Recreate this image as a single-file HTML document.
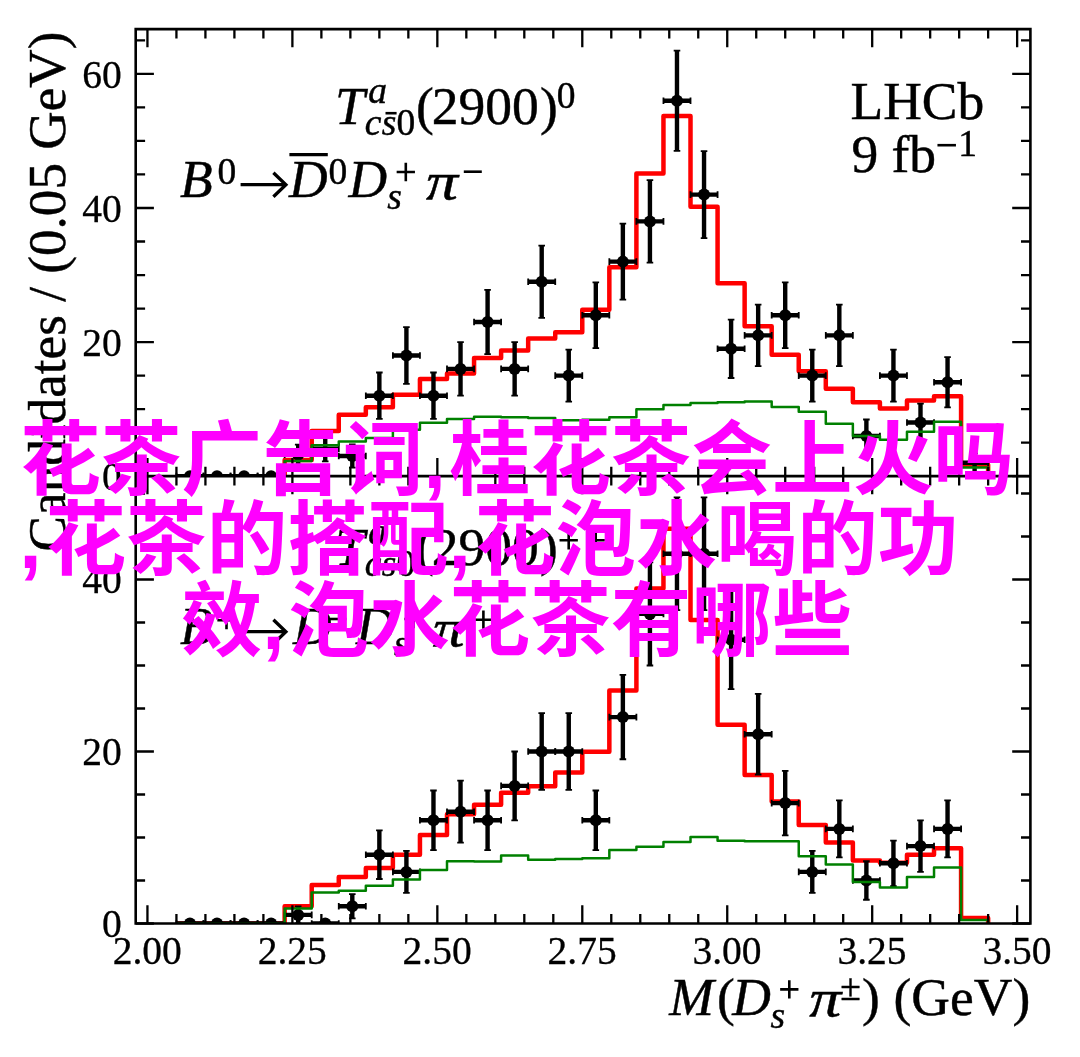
<!DOCTYPE html>
<html><head><meta charset="utf-8"><title>plot</title>
<style>html,body{margin:0;padding:0;background:#fff}body{width:1080px;height:1057px;overflow:hidden;position:relative;font-family:"Liberation Serif",serif}</style></head>
<body>
<svg xmlns="http://www.w3.org/2000/svg" width="1080" height="1057" viewBox="0 0 1080 1057" style="position:absolute;left:0;top:0;will-change:transform;font-family:'Liberation Serif',serif" shape-rendering="geometricPrecision">
<defs><clipPath id="ct"><rect x="135.7" y="29.13" width="894.7" height="447.02"/></clipPath><clipPath id="cb"><rect x="135.7" y="476.15" width="894.7" height="447.35"/></clipPath></defs>
<rect width="1080" height="1057" fill="#fff"/>
<g clip-path="url(#ct)">
<path d="M176.43 476.15 L176.43 476.15 L203.49 476.15 L203.49 476.15 L230.54 476.15 L230.54 476.15 L257.6 476.15 L257.6 476.15 L284.66 476.15 L284.66 460.02 L311.72 460.02 L311.72 430.99 L338.77 430.99 L338.77 414.8 L365.83 414.8 L365.83 407.27 L392.89 407.27 L392.89 394.84 L419.94 394.84 L419.94 379.05 L447 379.05 L447 373.54 L474.06 373.54 L474.06 357.88 L501.11 357.88 L501.11 350.49 L528.17 350.49 L528.17 338.39 L555.23 338.39 L555.23 332.34 L582.28 332.34 L582.28 309.83 L609.34 309.83 L609.34 267.16 L636.4 267.16 L636.4 173.55 L663.46 173.55 L663.46 115.96 L690.51 115.96 L690.51 206.68 L717.57 206.68 L717.57 283.29 L744.63 283.29 L744.63 326.29 L771.68 326.29 L771.68 354.85 L798.74 354.85 L798.74 371.32 L825.8 371.32 L825.8 388.79 L852.86 388.79 L852.86 402.23 L879.91 402.23 L879.91 408.55 L906.97 408.55 L906.97 400.55 L934.03 400.55 L934.03 396.18 L961.08 396.18 L961.08 464.73 L988.14 464.73 L988.14 476.15" stroke="#ff0000" stroke-width="4.5" fill="none" stroke-linejoin="round"/>
<path d="M176.43 476.15H203.49" stroke="#000" stroke-width="4.4" fill="none"/>
<path d="M176.43 472.85V479.45M203.49 472.85V479.45" stroke="#000" stroke-width="1.8" fill="none"/>
<circle cx="189.96" cy="476.15" r="6"/>
<path d="M203.49 476.15H230.54" stroke="#000" stroke-width="4.4" fill="none"/>
<path d="M203.49 472.85V479.45M230.54 472.85V479.45" stroke="#000" stroke-width="1.8" fill="none"/>
<circle cx="217.02" cy="476.15" r="6"/>
<path d="M230.54 476.15H257.6" stroke="#000" stroke-width="4.4" fill="none"/>
<path d="M230.54 472.85V479.45M257.6 472.85V479.45" stroke="#000" stroke-width="1.8" fill="none"/>
<circle cx="244.07" cy="476.15" r="6"/>
<path d="M257.6 476.15H284.66" stroke="#000" stroke-width="4.4" fill="none"/>
<path d="M257.6 472.85V479.45M284.66 472.85V479.45" stroke="#000" stroke-width="1.8" fill="none"/>
<circle cx="271.13" cy="476.15" r="6"/>
<path d="M284.66 454.7H311.72M298.19 444.64V464.75" stroke="#000" stroke-width="4.4" fill="none"/>
<path d="M284.66 451.4V458M311.72 451.4V458M294.89 444.64H301.49M294.89 464.75H301.49" stroke="#000" stroke-width="1.8" fill="none"/>
<circle cx="298.19" cy="454.7" r="6"/>
<path d="M311.72 448.66H338.77M325.24 435.93V461.4" stroke="#000" stroke-width="4.4" fill="none"/>
<path d="M311.72 445.36V451.96M338.77 445.36V451.96M321.94 435.93H328.54M321.94 461.4H328.54" stroke="#000" stroke-width="1.8" fill="none"/>
<path d="M338.77 456.04H365.83M352.3 444.43V467.65" stroke="#000" stroke-width="4.4" fill="none"/>
<path d="M338.77 452.74V459.34M365.83 452.74V459.34M349 444.43H355.6M349 467.65H355.6" stroke="#000" stroke-width="1.8" fill="none"/>
<circle cx="352.3" cy="456.04" r="6"/>
<path d="M365.83 395.7H392.89M379.36 372.48V418.93" stroke="#000" stroke-width="4.4" fill="none"/>
<path d="M365.83 392.4V399M392.89 392.4V399M376.06 372.48H382.66M376.06 418.93H382.66" stroke="#000" stroke-width="1.8" fill="none"/>
<circle cx="379.36" cy="395.7" r="6"/>
<path d="M392.89 355.48H419.94M406.41 327.04V383.92" stroke="#000" stroke-width="4.4" fill="none"/>
<path d="M392.89 352.18V358.78M419.94 352.18V358.78M403.11 327.04H409.71M403.11 383.92H409.71" stroke="#000" stroke-width="1.8" fill="none"/>
<circle cx="406.41" cy="355.48" r="6"/>
<path d="M419.94 395.7H447M433.47 372.48V418.93" stroke="#000" stroke-width="4.4" fill="none"/>
<path d="M419.94 392.4V399M447 392.4V399M430.17 372.48H436.77M430.17 418.93H436.77" stroke="#000" stroke-width="1.8" fill="none"/>
<circle cx="433.47" cy="395.7" r="6"/>
<path d="M447 368.89H474.06M460.53 342.07V395.7" stroke="#000" stroke-width="4.4" fill="none"/>
<path d="M447 365.59V372.19M474.06 365.59V372.19M457.23 342.07H463.83M457.23 395.7H463.83" stroke="#000" stroke-width="1.8" fill="none"/>
<circle cx="460.53" cy="368.89" r="6"/>
<path d="M474.06 321.96H501.11M487.59 289.81V354.11" stroke="#000" stroke-width="4.4" fill="none"/>
<path d="M474.06 318.66V325.26M501.11 318.66V325.26M484.29 289.81H490.89M484.29 354.11H490.89" stroke="#000" stroke-width="1.8" fill="none"/>
<circle cx="487.59" cy="321.96" r="6"/>
<path d="M501.11 368.89H528.17M514.64 342.07V395.7" stroke="#000" stroke-width="4.4" fill="none"/>
<path d="M501.11 365.59V372.19M528.17 365.59V372.19M511.34 342.07H517.94M511.34 395.7H517.94" stroke="#000" stroke-width="1.8" fill="none"/>
<circle cx="514.64" cy="368.89" r="6"/>
<path d="M528.17 281.73H555.23M541.7 245.63V317.84" stroke="#000" stroke-width="4.4" fill="none"/>
<path d="M528.17 278.43V285.03M555.23 278.43V285.03M538.4 245.63H545M538.4 317.84H545" stroke="#000" stroke-width="1.8" fill="none"/>
<circle cx="541.7" cy="281.73" r="6"/>
<path d="M555.23 375.59H582.28M568.76 349.63V401.55" stroke="#000" stroke-width="4.4" fill="none"/>
<path d="M555.23 372.29V378.89M582.28 372.29V378.89M565.46 349.63H572.06M565.46 401.55H572.06" stroke="#000" stroke-width="1.8" fill="none"/>
<circle cx="568.76" cy="375.59" r="6"/>
<path d="M582.28 315.25H609.34M595.81 282.41V348.1" stroke="#000" stroke-width="4.4" fill="none"/>
<path d="M582.28 311.95V318.55M609.34 311.95V318.55M592.51 282.41H599.11M592.51 348.1H599.11" stroke="#000" stroke-width="1.8" fill="none"/>
<circle cx="595.81" cy="315.25" r="6"/>
<path d="M609.34 261.62H636.4M622.87 223.7V299.55" stroke="#000" stroke-width="4.4" fill="none"/>
<path d="M609.34 258.32V264.92M636.4 258.32V264.92M619.57 223.7H626.17M619.57 299.55H626.17" stroke="#000" stroke-width="1.8" fill="none"/>
<circle cx="622.87" cy="261.62" r="6"/>
<path d="M636.4 221.4H663.46M649.93 180.07V262.72" stroke="#000" stroke-width="4.4" fill="none"/>
<path d="M636.4 218.1V224.7M663.46 218.1V224.7M646.63 180.07H653.23M646.63 262.72H653.23" stroke="#000" stroke-width="1.8" fill="none"/>
<circle cx="649.93" cy="221.4" r="6"/>
<path d="M663.46 100.73H690.51M676.98 50.56V150.89" stroke="#000" stroke-width="4.4" fill="none"/>
<path d="M663.46 97.43V104.03M690.51 97.43V104.03M673.68 50.56H680.28M673.68 150.89H680.28" stroke="#000" stroke-width="1.8" fill="none"/>
<circle cx="676.98" cy="100.73" r="6"/>
<path d="M690.51 194.58H717.57M704.04 151.14V238.03" stroke="#000" stroke-width="4.4" fill="none"/>
<path d="M690.51 191.28V197.88M717.57 191.28V197.88M700.74 151.14H707.34M700.74 238.03H707.34" stroke="#000" stroke-width="1.8" fill="none"/>
<circle cx="704.04" cy="194.58" r="6"/>
<path d="M717.57 348.77H744.63M731.1 319.55V378" stroke="#000" stroke-width="4.4" fill="none"/>
<path d="M717.57 345.47V352.07M744.63 345.47V352.07M727.8 319.55H734.4M727.8 378H734.4" stroke="#000" stroke-width="1.8" fill="none"/>
<circle cx="731.1" cy="348.77" r="6"/>
<path d="M744.63 335.37H771.68M758.16 304.64V366.09" stroke="#000" stroke-width="4.4" fill="none"/>
<path d="M744.63 332.07V338.67M771.68 332.07V338.67M754.86 304.64H761.46M754.86 366.09H761.46" stroke="#000" stroke-width="1.8" fill="none"/>
<circle cx="758.16" cy="335.37" r="6"/>
<path d="M771.68 315.25H798.74M785.21 282.41V348.1" stroke="#000" stroke-width="4.4" fill="none"/>
<path d="M771.68 311.95V318.55M798.74 311.95V318.55M781.91 282.41H788.51M781.91 348.1H788.51" stroke="#000" stroke-width="1.8" fill="none"/>
<circle cx="785.21" cy="315.25" r="6"/>
<path d="M798.74 375.59H825.8M812.27 349.63V401.55" stroke="#000" stroke-width="4.4" fill="none"/>
<path d="M798.74 372.29V378.89M825.8 372.29V378.89M808.97 349.63H815.57M808.97 401.55H815.57" stroke="#000" stroke-width="1.8" fill="none"/>
<circle cx="812.27" cy="375.59" r="6"/>
<path d="M825.8 335.37H852.86M839.33 304.64V366.09" stroke="#000" stroke-width="4.4" fill="none"/>
<path d="M825.8 332.07V338.67M852.86 332.07V338.67M836.03 304.64H842.63M836.03 366.09H842.63" stroke="#000" stroke-width="1.8" fill="none"/>
<circle cx="839.33" cy="335.37" r="6"/>
<path d="M852.86 435.93H879.91M866.38 419.5V452.35" stroke="#000" stroke-width="4.4" fill="none"/>
<path d="M852.86 432.63V439.23M879.91 432.63V439.23M863.08 419.5H869.68M863.08 452.35H869.68" stroke="#000" stroke-width="1.8" fill="none"/>
<circle cx="866.38" cy="435.93" r="6"/>
<path d="M879.91 375.59H906.97M893.44 349.63V401.55" stroke="#000" stroke-width="4.4" fill="none"/>
<path d="M879.91 372.29V378.89M906.97 372.29V378.89M890.14 349.63H896.74M890.14 401.55H896.74" stroke="#000" stroke-width="1.8" fill="none"/>
<circle cx="893.44" cy="375.59" r="6"/>
<path d="M906.97 422.52H934.03M920.5 403.56V441.48" stroke="#000" stroke-width="4.4" fill="none"/>
<path d="M906.97 419.22V425.82M934.03 419.22V425.82M917.2 403.56H923.8M917.2 441.48H923.8" stroke="#000" stroke-width="1.8" fill="none"/>
<circle cx="920.5" cy="422.52" r="6"/>
<path d="M934.03 382.29H961.08M947.55 357.21V407.38" stroke="#000" stroke-width="4.4" fill="none"/>
<path d="M934.03 378.99V385.59M961.08 378.99V385.59M944.25 357.21H950.85M944.25 407.38H950.85" stroke="#000" stroke-width="1.8" fill="none"/>
<circle cx="947.55" cy="382.29" r="6"/>
<path d="M961.08 462.74H988.14M974.61 453.29V472.19" stroke="#000" stroke-width="4.4" fill="none"/>
<path d="M961.08 459.44V466.04M988.14 459.44V466.04M971.31 453.29H977.91M971.31 472.19H977.91" stroke="#000" stroke-width="1.8" fill="none"/>
<path d="M176.43 476.15 L176.43 476.15 L203.49 476.15 L203.49 476.15 L230.54 476.15 L230.54 476.15 L257.6 476.15 L257.6 476.15 L284.66 476.15 L284.66 461.03 L311.72 461.03 L311.72 445.24 L338.77 445.24 L338.77 441.47 L365.83 441.47 L365.83 437.98 L392.89 437.98 L392.89 429.78 L419.94 429.78 L419.94 422.73 L447 422.73 L447 419.03 L474.06 419.03 L474.06 416.75 L501.11 416.75 L501.11 417.28 L528.17 417.28 L528.17 418.02 L555.23 418.02 L555.23 420.37 L582.28 420.37 L582.28 419.77 L609.34 419.77 L609.34 417.28 L636.4 417.28 L636.4 409.29 L663.46 409.29 L663.46 404.92 L690.51 404.92 L690.51 402.9 L717.57 402.9 L717.57 402.23 L744.63 402.23 L744.63 401.56 L771.68 401.56 L771.68 406.93 L798.74 406.93 L798.74 411.64 L825.8 411.64 L825.8 423.73 L852.86 423.73 L852.86 436.03 L879.91 436.03 L879.91 439.86 L906.97 439.86 L906.97 431.8 L934.03 431.8 L934.03 421.72 L961.08 421.72 L961.08 467.41 L988.14 467.41 L988.14 476.15" stroke="#008000" stroke-width="2.5" fill="none" stroke-linejoin="round"/>
</g>
<g clip-path="url(#cb)">
<path d="M176.43 923.5 L176.43 923.5 L203.49 923.5 L203.49 923.5 L230.54 923.5 L230.54 923.5 L257.6 923.5 L257.6 923.5 L284.66 923.5 L284.66 906.13 L311.72 906.13 L311.72 884.89 L338.77 884.89 L338.77 876.89 L365.83 876.89 L365.83 867.94 L392.89 867.94 L392.89 854.87 L419.94 854.87 L419.94 834.92 L447 834.92 L447 814.28 L474.06 814.28 L474.06 804.82 L501.11 804.82 L501.11 792.78 L528.17 792.78 L528.17 786.24 L555.23 786.24 L555.23 772.48 L582.28 772.48 L582.28 751.76 L609.34 751.76 L609.34 690.44 L636.4 690.44 L636.4 588.53 L663.46 588.53 L663.46 528.76 L690.51 528.76 L690.51 619.92 L717.57 619.92 L717.57 724.84 L744.63 724.84 L744.63 774.98 L771.68 774.98 L771.68 801.38 L798.74 801.38 L798.74 824.94 L825.8 824.94 L825.8 842.4 L852.86 842.4 L852.86 860.38 L879.91 860.38 L879.91 862.87 L906.97 862.87 L906.97 854.87 L934.03 854.87 L934.03 848.16 L961.08 848.16 L961.08 918.08 L988.14 918.08 L988.14 923.5" stroke="#ff0000" stroke-width="4.5" fill="none" stroke-linejoin="round"/>
<path d="M176.43 923.5H203.49" stroke="#000" stroke-width="4.4" fill="none"/>
<path d="M176.43 920.2V926.8M203.49 920.2V926.8" stroke="#000" stroke-width="1.8" fill="none"/>
<circle cx="189.96" cy="923.5" r="6"/>
<path d="M203.49 923.5H230.54" stroke="#000" stroke-width="4.4" fill="none"/>
<path d="M203.49 920.2V926.8M230.54 920.2V926.8" stroke="#000" stroke-width="1.8" fill="none"/>
<circle cx="217.02" cy="923.5" r="6"/>
<path d="M230.54 923.5H257.6" stroke="#000" stroke-width="4.4" fill="none"/>
<path d="M230.54 920.2V926.8M257.6 920.2V926.8" stroke="#000" stroke-width="1.8" fill="none"/>
<circle cx="244.07" cy="923.5" r="6"/>
<path d="M257.6 923.5H284.66" stroke="#000" stroke-width="4.4" fill="none"/>
<path d="M257.6 920.2V926.8M284.66 920.2V926.8" stroke="#000" stroke-width="1.8" fill="none"/>
<circle cx="271.13" cy="923.5" r="6"/>
<path d="M284.66 914.9H311.72M298.19 906.3V923.5" stroke="#000" stroke-width="4.4" fill="none"/>
<path d="M284.66 911.6V918.2M311.72 911.6V918.2M294.89 906.3H301.49M294.89 923.5H301.49" stroke="#000" stroke-width="1.8" fill="none"/>
<circle cx="298.19" cy="914.9" r="6"/>
<path d="M311.72 923.5H338.77" stroke="#000" stroke-width="4.4" fill="none"/>
<path d="M311.72 920.2V926.8M338.77 920.2V926.8" stroke="#000" stroke-width="1.8" fill="none"/>
<circle cx="325.24" cy="923.5" r="6"/>
<path d="M338.77 906.3H365.83M352.3 894.14V918.46" stroke="#000" stroke-width="4.4" fill="none"/>
<path d="M338.77 903V909.6M365.83 903V909.6M349 894.14H355.6M349 918.46H355.6" stroke="#000" stroke-width="1.8" fill="none"/>
<circle cx="352.3" cy="906.3" r="6"/>
<path d="M365.83 854.7H392.89M379.36 830.38V879.02" stroke="#000" stroke-width="4.4" fill="none"/>
<path d="M365.83 851.4V858M392.89 851.4V858M376.06 830.38H382.66M376.06 879.02H382.66" stroke="#000" stroke-width="1.8" fill="none"/>
<circle cx="379.36" cy="854.7" r="6"/>
<path d="M392.89 871.9H419.94M406.41 850.83V892.97" stroke="#000" stroke-width="4.4" fill="none"/>
<path d="M392.89 868.6V875.2M419.94 868.6V875.2M403.11 850.83H409.71M403.11 892.97H409.71" stroke="#000" stroke-width="1.8" fill="none"/>
<circle cx="406.41" cy="871.9" r="6"/>
<path d="M419.94 820.3H447M433.47 790.51V850.09" stroke="#000" stroke-width="4.4" fill="none"/>
<path d="M419.94 817V823.6M447 817V823.6M430.17 790.51H436.77M430.17 850.09H436.77" stroke="#000" stroke-width="1.8" fill="none"/>
<circle cx="433.47" cy="820.3" r="6"/>
<path d="M447 811.7H474.06M460.53 780.69V842.71" stroke="#000" stroke-width="4.4" fill="none"/>
<path d="M447 808.4V815M474.06 808.4V815M457.23 780.69H463.83M457.23 842.71H463.83" stroke="#000" stroke-width="1.8" fill="none"/>
<circle cx="460.53" cy="811.7" r="6"/>
<path d="M474.06 820.3H501.11M487.59 790.51V850.09" stroke="#000" stroke-width="4.4" fill="none"/>
<path d="M474.06 817V823.6M501.11 817V823.6M484.29 790.51H490.89M484.29 850.09H490.89" stroke="#000" stroke-width="1.8" fill="none"/>
<circle cx="487.59" cy="820.3" r="6"/>
<path d="M501.11 785.9H528.17M514.64 751.5V820.3" stroke="#000" stroke-width="4.4" fill="none"/>
<path d="M501.11 782.6V789.2M528.17 782.6V789.2M511.34 751.5H517.94M511.34 820.3H517.94" stroke="#000" stroke-width="1.8" fill="none"/>
<circle cx="514.64" cy="785.9" r="6"/>
<path d="M528.17 751.5H555.23M541.7 713.04V789.96" stroke="#000" stroke-width="4.4" fill="none"/>
<path d="M528.17 748.2V754.8M555.23 748.2V754.8M538.4 713.04H545M538.4 789.96H545" stroke="#000" stroke-width="1.8" fill="none"/>
<circle cx="541.7" cy="751.5" r="6"/>
<path d="M555.23 751.5H582.28M568.76 713.04V789.96" stroke="#000" stroke-width="4.4" fill="none"/>
<path d="M555.23 748.2V754.8M582.28 748.2V754.8M565.46 713.04H572.06M565.46 789.96H572.06" stroke="#000" stroke-width="1.8" fill="none"/>
<circle cx="568.76" cy="751.5" r="6"/>
<path d="M582.28 820.3H609.34M595.81 790.51V850.09" stroke="#000" stroke-width="4.4" fill="none"/>
<path d="M582.28 817V823.6M609.34 817V823.6M592.51 790.51H599.11M592.51 850.09H599.11" stroke="#000" stroke-width="1.8" fill="none"/>
<circle cx="595.81" cy="820.3" r="6"/>
<path d="M609.34 717.1H636.4M622.87 674.97V759.23" stroke="#000" stroke-width="4.4" fill="none"/>
<path d="M609.34 713.8V720.4M636.4 713.8V720.4M619.57 674.97H626.17M619.57 759.23H626.17" stroke="#000" stroke-width="1.8" fill="none"/>
<circle cx="622.87" cy="717.1" r="6"/>
<path d="M636.4 613.9H663.46M649.93 562.3V665.5" stroke="#000" stroke-width="4.4" fill="none"/>
<path d="M636.4 610.6V617.2M663.46 610.6V617.2M646.63 562.3H653.23M646.63 665.5H653.23" stroke="#000" stroke-width="1.8" fill="none"/>
<circle cx="649.93" cy="613.9" r="6"/>
<path d="M663.46 553.7H690.51M676.98 497.31V610.09" stroke="#000" stroke-width="4.4" fill="none"/>
<path d="M663.46 550.4V557M690.51 550.4V557M673.68 497.31H680.28M673.68 610.09H680.28" stroke="#000" stroke-width="1.8" fill="none"/>
<circle cx="676.98" cy="553.7" r="6"/>
<path d="M690.51 553.7H717.57M704.04 497.31V610.09" stroke="#000" stroke-width="4.4" fill="none"/>
<path d="M690.51 550.4V557M717.57 550.4V557M700.74 497.31H707.34M700.74 610.09H707.34" stroke="#000" stroke-width="1.8" fill="none"/>
<circle cx="704.04" cy="553.7" r="6"/>
<path d="M717.57 639.7H744.63M731.1 590.3V689.1" stroke="#000" stroke-width="4.4" fill="none"/>
<path d="M717.57 636.4V643M744.63 636.4V643M727.8 590.3H734.4M727.8 689.1H734.4" stroke="#000" stroke-width="1.8" fill="none"/>
<circle cx="731.1" cy="639.7" r="6"/>
<path d="M744.63 734.3H771.68M758.16 693.96V774.64" stroke="#000" stroke-width="4.4" fill="none"/>
<path d="M744.63 731V737.6M771.68 731V737.6M754.86 693.96H761.46M754.86 774.64H761.46" stroke="#000" stroke-width="1.8" fill="none"/>
<circle cx="758.16" cy="734.3" r="6"/>
<path d="M771.68 803.1H798.74M785.21 770.92V835.28" stroke="#000" stroke-width="4.4" fill="none"/>
<path d="M771.68 799.8V806.4M798.74 799.8V806.4M781.91 770.92H788.51M781.91 835.28H788.51" stroke="#000" stroke-width="1.8" fill="none"/>
<circle cx="785.21" cy="803.1" r="6"/>
<path d="M798.74 871.9H825.8M812.27 850.83V892.97" stroke="#000" stroke-width="4.4" fill="none"/>
<path d="M798.74 868.6V875.2M825.8 868.6V875.2M808.97 850.83H815.57M808.97 892.97H815.57" stroke="#000" stroke-width="1.8" fill="none"/>
<circle cx="812.27" cy="871.9" r="6"/>
<path d="M825.8 828.9H852.86M839.33 800.38V857.42" stroke="#000" stroke-width="4.4" fill="none"/>
<path d="M825.8 825.6V832.2M852.86 825.6V832.2M836.03 800.38H842.63M836.03 857.42H842.63" stroke="#000" stroke-width="1.8" fill="none"/>
<circle cx="839.33" cy="828.9" r="6"/>
<path d="M852.86 880.5H879.91M866.38 861.27V899.73" stroke="#000" stroke-width="4.4" fill="none"/>
<path d="M852.86 877.2V883.8M879.91 877.2V883.8M863.08 861.27H869.68M863.08 899.73H869.68" stroke="#000" stroke-width="1.8" fill="none"/>
<circle cx="866.38" cy="880.5" r="6"/>
<path d="M879.91 863.3H906.97M893.44 840.55V886.05" stroke="#000" stroke-width="4.4" fill="none"/>
<path d="M879.91 860V866.6M906.97 860V866.6M890.14 840.55H896.74M890.14 886.05H896.74" stroke="#000" stroke-width="1.8" fill="none"/>
<circle cx="893.44" cy="863.3" r="6"/>
<path d="M906.97 846.1H934.03M920.5 820.3V871.9" stroke="#000" stroke-width="4.4" fill="none"/>
<path d="M906.97 842.8V849.4M934.03 842.8V849.4M917.2 820.3H923.8M917.2 871.9H923.8" stroke="#000" stroke-width="1.8" fill="none"/>
<circle cx="920.5" cy="846.1" r="6"/>
<path d="M934.03 828.9H961.08M947.55 800.38V857.42" stroke="#000" stroke-width="4.4" fill="none"/>
<path d="M934.03 825.6V832.2M961.08 825.6V832.2M944.25 800.38H950.85M944.25 857.42H950.85" stroke="#000" stroke-width="1.8" fill="none"/>
<circle cx="947.55" cy="828.9" r="6"/>
<path d="M176.43 923.5 L176.43 923.5 L203.49 923.5 L203.49 923.5 L230.54 923.5 L230.54 923.5 L257.6 923.5 L257.6 923.5 L284.66 923.5 L284.66 908.62 L311.72 908.62 L311.72 892.54 L338.77 892.54 L338.77 890.82 L365.83 890.82 L365.83 885.66 L392.89 885.66 L392.89 879.38 L419.94 879.38 L419.94 869.92 L447 869.92 L447 861.15 L474.06 861.15 L474.06 861.58 L501.11 861.58 L501.11 855.56 L528.17 855.56 L528.17 859.86 L555.23 859.86 L555.23 859 L582.28 859 L582.28 858.14 L609.34 858.14 L609.34 849.97 L636.4 849.97 L636.4 846.7 L663.46 846.7 L663.46 841.89 L690.51 841.89 L690.51 836.9 L717.57 836.9 L717.57 840.68 L744.63 840.68 L744.63 841.37 L771.68 841.37 L771.68 841.2 L798.74 841.2 L798.74 856.16 L825.8 856.16 L825.8 864.42 L852.86 864.42 L852.86 881.88 L879.91 881.88 L879.91 887.38 L906.97 887.38 L906.97 876.89 L934.03 876.89 L934.03 867.43 L961.08 867.43 L961.08 919.89 L988.14 919.89 L988.14 923.5" stroke="#008000" stroke-width="2.5" fill="none" stroke-linejoin="round"/>
</g>
<path d="M147.44 29.13v18.2M147.44 457.95V494.35M147.44 923.5v-18.2M176.43 29.13v9.4M176.43 466.75V485.55M176.43 923.5v-9.4M205.42 29.13v9.4M205.42 466.75V485.55M205.42 923.5v-9.4M234.41 29.13v9.4M234.41 466.75V485.55M234.41 923.5v-9.4M263.4 29.13v9.4M263.4 466.75V485.55M263.4 923.5v-9.4M292.39 29.13v18.2M292.39 457.95V494.35M292.39 923.5v-18.2M321.38 29.13v9.4M321.38 466.75V485.55M321.38 923.5v-9.4M350.37 29.13v9.4M350.37 466.75V485.55M350.37 923.5v-9.4M379.36 29.13v9.4M379.36 466.75V485.55M379.36 923.5v-9.4M408.35 29.13v9.4M408.35 466.75V485.55M408.35 923.5v-9.4M437.34 29.13v18.2M437.34 457.95V494.35M437.34 923.5v-18.2M466.33 29.13v9.4M466.33 466.75V485.55M466.33 923.5v-9.4M495.32 29.13v9.4M495.32 466.75V485.55M495.32 923.5v-9.4M524.31 29.13v9.4M524.31 466.75V485.55M524.31 923.5v-9.4M553.3 29.13v9.4M553.3 466.75V485.55M553.3 923.5v-9.4M582.29 29.13v18.2M582.29 457.95V494.35M582.29 923.5v-18.2M611.28 29.13v9.4M611.28 466.75V485.55M611.28 923.5v-9.4M640.27 29.13v9.4M640.27 466.75V485.55M640.27 923.5v-9.4M669.26 29.13v9.4M669.26 466.75V485.55M669.26 923.5v-9.4M698.25 29.13v9.4M698.25 466.75V485.55M698.25 923.5v-9.4M727.24 29.13v18.2M727.24 457.95V494.35M727.24 923.5v-18.2M756.23 29.13v9.4M756.23 466.75V485.55M756.23 923.5v-9.4M785.22 29.13v9.4M785.22 466.75V485.55M785.22 923.5v-9.4M814.21 29.13v9.4M814.21 466.75V485.55M814.21 923.5v-9.4M843.2 29.13v9.4M843.2 466.75V485.55M843.2 923.5v-9.4M872.19 29.13v18.2M872.19 457.95V494.35M872.19 923.5v-18.2M901.18 29.13v9.4M901.18 466.75V485.55M901.18 923.5v-9.4M930.17 29.13v9.4M930.17 466.75V485.55M930.17 923.5v-9.4M959.16 29.13v9.4M959.16 466.75V485.55M959.16 923.5v-9.4M988.15 29.13v9.4M988.15 466.75V485.55M988.15 923.5v-9.4M1017.14 29.13v18.2M1017.14 457.95V494.35M1017.14 923.5v-18.2M135.7 476.15h18.2M1030.4 476.15h-18.2M135.7 442.63h9.4M1030.4 442.63h-9.4M135.7 409.11h9.4M1030.4 409.11h-9.4M135.7 375.59h9.4M1030.4 375.59h-9.4M135.7 342.07h18.2M1030.4 342.07h-18.2M135.7 308.55h9.4M1030.4 308.55h-9.4M135.7 275.03h9.4M1030.4 275.03h-9.4M135.7 241.51h9.4M1030.4 241.51h-9.4M135.7 207.99h18.2M1030.4 207.99h-18.2M135.7 174.47h9.4M1030.4 174.47h-9.4M135.7 140.95h9.4M1030.4 140.95h-9.4M135.7 107.43h9.4M1030.4 107.43h-9.4M135.7 73.91h18.2M1030.4 73.91h-18.2M135.7 40.39h9.4M1030.4 40.39h-9.4M135.7 923.5h18.2M1030.4 923.5h-18.2M135.7 880.5h9.4M1030.4 880.5h-9.4M135.7 837.5h9.4M1030.4 837.5h-9.4M135.7 794.5h9.4M1030.4 794.5h-9.4M135.7 751.5h18.2M1030.4 751.5h-18.2M135.7 708.5h9.4M1030.4 708.5h-9.4M135.7 665.5h9.4M1030.4 665.5h-9.4M135.7 622.5h9.4M1030.4 622.5h-9.4M135.7 579.5h18.2M1030.4 579.5h-18.2M135.7 536.5h9.4M1030.4 536.5h-9.4M135.7 493.5h9.4M1030.4 493.5h-9.4" stroke="#000" stroke-width="2.3" fill="none"/>
<path d="M135.7 29.13H1030.4V923.5H135.7ZM135.7 476.15H1030.4" stroke="#000" stroke-width="2.6" fill="none" stroke-linejoin="miter"/>
<g fill="#000" stroke="#000" stroke-width="0.3">
<text x="121.8" y="490" font-size="39.5" text-anchor="end" style="" >0</text>
<text x="121.8" y="355.92" font-size="39.5" text-anchor="end" style="" >20</text>
<text x="121.8" y="221.84" font-size="39.5" text-anchor="end" style="" >40</text>
<text x="121.8" y="87.76" font-size="39.5" text-anchor="end" style="" >60</text>
<text x="121.8" y="937.35" font-size="39.5" text-anchor="end" style="" >0</text>
<text x="121.8" y="765.35" font-size="39.5" text-anchor="end" style="" >20</text>
<text x="121.8" y="593.35" font-size="39.5" text-anchor="end" style="" >40</text>
<text x="147.24" y="963.7" font-size="39.5" text-anchor="middle" style="" >2.00</text>
<text x="292.19" y="963.7" font-size="39.5" text-anchor="middle" style="" >2.25</text>
<text x="437.14" y="963.7" font-size="39.5" text-anchor="middle" style="" >2.50</text>
<text x="582.09" y="963.7" font-size="39.5" text-anchor="middle" style="" >2.75</text>
<text x="727.04" y="963.7" font-size="39.5" text-anchor="middle" style="" >3.00</text>
<text x="871.99" y="963.7" font-size="39.5" text-anchor="middle" style="" >3.25</text>
<text x="1016.94" y="963.7" font-size="39.5" text-anchor="middle" style="" >3.50</text>
</g>
<g fill="#000" stroke="#000" stroke-width="0.45">
<text x="335" y="123.8" font-size="53.5" text-anchor="start" style="font-style:italic;" >T</text>
<text x="368.18" y="103.4" font-size="37.5" text-anchor="start" style="font-style:italic;" >a</text>
<text x="364.85" y="135.4" font-size="37.5" text-anchor="start" style="font-style:italic;" >c</text>
<text x="381.74" y="135.4" font-size="37.5" text-anchor="start" style="font-style:italic;" >s</text>
<path d="M385.5 113.2H396.6" stroke="#000" stroke-width="2.6"/>
<text x="396.57" y="135.4" font-size="37.5" text-anchor="start" style="" >0</text>
<text x="415.95" y="123.8" font-size="53.5" text-anchor="start" style="" >(</text>
<text x="431.65" y="123.8" font-size="53.5" text-anchor="start" style="" >2900</text>
<text x="540.08" y="123.8" font-size="53.5" text-anchor="start" style="" >)</text>
<text x="556.77" y="108.2" font-size="37.5" text-anchor="start" style="" >0</text>
<text x="179.9" y="197.2" font-size="53.5" text-anchor="start" style="font-style:italic;" >B</text>
<text x="217.47" y="184.2" font-size="37.5" text-anchor="start" style="" >0</text>
<path d="M240.6 184.7H285M273.4 172.7L285.9 184.7L273.4 196.7" stroke="#000" stroke-width="3.3" fill="none" stroke-linejoin="miter"/>
<text x="289.1" y="197.2" font-size="53.5" text-anchor="start" style="font-style:italic;" >D</text>
<path d="M289.4 154.7H327.8" stroke="#000" stroke-width="3.2"/>
<text x="328.57" y="184.2" font-size="37.5" text-anchor="start" style="" >0</text>
<text x="348.4" y="197.2" font-size="53.5" text-anchor="start" style="font-style:italic;" >D</text>
<text x="387.34" y="209" font-size="37.5" text-anchor="start" style="font-style:italic;" >s</text>
<path d="M396.65 172H414.95M405.8 162.85V181.15" stroke="#000" stroke-width="2.6" fill="none"/>
<text x="426" y="198.6" font-size="53.5" text-anchor="start" textLength="32" lengthAdjust="spacingAndGlyphs" style="font-style:italic;" >π</text>
<path d="M463.8 171.7H481.8" stroke="#000" stroke-width="2.6" fill="none"/>
<text x="335" y="564.6" font-size="53.5" text-anchor="start" style="font-style:italic;" >T</text>
<text x="368.18" y="544.2" font-size="37.5" text-anchor="start" style="font-style:italic;" >a</text>
<text x="364.85" y="576.2" font-size="37.5" text-anchor="start" style="font-style:italic;" >c</text>
<text x="381.74" y="576.2" font-size="37.5" text-anchor="start" style="font-style:italic;" >s</text>
<path d="M385.5 554H396.6" stroke="#000" stroke-width="2.6"/>
<text x="396.57" y="576.2" font-size="37.5" text-anchor="start" style="" >0</text>
<text x="415.95" y="564.6" font-size="53.5" text-anchor="start" style="" >(</text>
<text x="431.65" y="564.6" font-size="53.5" text-anchor="start" style="" >2900</text>
<text x="540.08" y="564.6" font-size="53.5" text-anchor="start" style="" >)</text>
<path d="M559.55 540.3H577.85M568.7 531.15V549.45" stroke="#000" stroke-width="2.6" fill="none"/>
<path d="M586.55 540.3H604.85M595.7 531.15V549.45" stroke="#000" stroke-width="2.6" fill="none"/>
<text x="179.9" y="644.2" font-size="53.5" text-anchor="start" style="font-style:italic;" >B</text>
<path d="M217.35 620.2H235.65M226.5 611.05V629.35" stroke="#000" stroke-width="2.6" fill="none"/>
<path d="M240.6 631.7H285M273.4 619.7L285.9 631.7L273.4 643.7" stroke="#000" stroke-width="3.3" fill="none" stroke-linejoin="miter"/>
<text x="293.1" y="644.2" font-size="53.5" text-anchor="start" style="font-style:italic;" >D</text>
<path d="M328.4 619H346.4" stroke="#000" stroke-width="2.6" fill="none"/>
<text x="356.1" y="644.2" font-size="53.5" text-anchor="start" style="font-style:italic;" >D</text>
<text x="394.04" y="656" font-size="37.5" text-anchor="start" style="font-style:italic;" >s</text>
<path d="M404.35 619H422.65M413.5 609.85V628.15" stroke="#000" stroke-width="2.6" fill="none"/>
<text x="432.7" y="645.6" font-size="53.5" text-anchor="start" textLength="32" lengthAdjust="spacingAndGlyphs" style="font-style:italic;" >π</text>
<path d="M474.25 619.7H492.55M483.4 610.55V628.85" stroke="#000" stroke-width="2.6" fill="none"/>
<text x="850.46" y="118.7" font-size="53.5" text-anchor="start" style="" >LHCb</text>
<text x="851.38" y="172" font-size="53.5" text-anchor="start" style="" >9 fb</text>
<path d="M937.45 145.2H955.95" stroke="#000" stroke-width="2.6" fill="none"/>
<text x="958.2" y="155.6" font-size="37.5" text-anchor="start" style="" >1</text>
<text transform="translate(65.3 31.5) rotate(-90)" x="0" y="0" font-size="53.2" text-anchor="end">Candidates / (0.05 GeV)</text>
<text x="669.13" y="1014.5" font-size="53.5" text-anchor="start" style="font-style:italic;" >M</text>
<text x="717.05" y="1014.5" font-size="53.5" text-anchor="start" style="" >(</text>
<text x="732.2" y="1014.5" font-size="53.5" text-anchor="start" style="font-style:italic;" >D</text>
<text x="770.54" y="1027.7" font-size="37.5" text-anchor="start" style="font-style:italic;" >s</text>
<path d="M780.15 989.4H798.45M789.3 980.25V998.55" stroke="#000" stroke-width="2.6" fill="none"/>
<text x="809.2" y="1015.9" font-size="53.5" text-anchor="start" textLength="32" lengthAdjust="spacingAndGlyphs" style="font-style:italic;" >π</text>
<text x="840.14" y="999.5" font-size="37.5" text-anchor="start" style="" >±</text>
<text x="861.88" y="1014.5" font-size="53.5" text-anchor="start" style="" >)</text>
<text x="893.55" y="1014.5" font-size="53.5" text-anchor="start" style="" >(GeV)</text>
</g>
<g fill="#ff00ff" font-size="80.62" font-weight="bold" style="font-family:'Liberation Sans','Noto Sans CJK SC',sans-serif">
<text y="487.9"><tspan x="20.3">花茶广告词</tspan><tspan x="423.4">,</tspan><tspan x="449.6">桂花茶会上火吗</tspan></text>
<text y="568.4"><tspan x="19.3">,</tspan><tspan x="45.5">花茶的搭配</tspan><tspan x="448.6">,</tspan><tspan x="474.8">花泡水喝的功</tspan></text>
<text y="648.9"><tspan x="181.6">效</tspan><tspan x="262.22">,</tspan><tspan x="288.42">泡水花茶有哪些</tspan></text>
</g>
</svg>
</body></html>
